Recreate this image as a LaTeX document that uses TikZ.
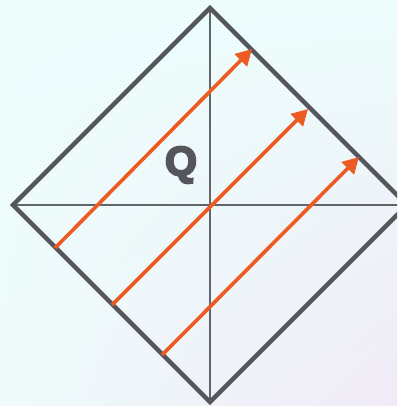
\documentclass[tikz,border=0pt]{standalone}
\usepackage{fontspec}
\setmainfont{Liberation Sans}
\newfontfamily\qfont[FakeBold=5]{Liberation Sans Bold}
\usetikzlibrary{arrows.meta,shadings}
\definecolor{frame}{HTML}{54565B}
\definecolor{axis}{HTML}{62656A}
\definecolor{arr}{HTML}{EE5B22}
\definecolor{bgA}{HTML}{EDFDFC}
\definecolor{bgB}{HTML}{F0EAF6}
\definecolor{bgC}{HTML}{EFFBFB}
\tikzset{
  edge/.style={draw=frame, line width=4.5pt, line join=miter},
  axisline/.style={draw=axis, line width=2pt},
  flow/.style={draw=arr, line width=3.6pt, -{Triangle[length=16pt,width=17pt]}},
  label/.style={font=\qfont\fontsize{41}{41}\selectfont, text=frame, inner sep=0pt}
}
\begin{document}
\begin{tikzpicture}[x=1pt,y=-1pt]
\useasboundingbox (0,0) rectangle (397,406);
\clip (0,0) rectangle (397,406);
\shade[upper left=bgA, upper right=bgA, lower left=bgC, lower right=bgB] (0,0) rectangle (397,406);
\coordinate (T) at (210,8);
\coordinate (L) at (13,205);
\coordinate (B) at (210,402);
\coordinate (R) at (407,205);
\draw[axisline] (T) -- (B);
\draw[axisline] (L) -- (R);
\draw[edge] (T) -- (R) -- (B) -- (L) -- cycle;
\coordinate (s1) at (55,248);
\coordinate (e1) at (252,49);
\coordinate (s2) at (112,305);
\coordinate (e2) at (308,109);
\coordinate (s3) at (162,355);
\coordinate (e3) at (359,157);
\draw[flow] (s1) -- (e1);
\draw[flow] (s2) -- (e2);
\draw[flow] (s3) -- (e3);
\node[label] (q) at (181,165) {Q};
\end{tikzpicture}
\end{document}
